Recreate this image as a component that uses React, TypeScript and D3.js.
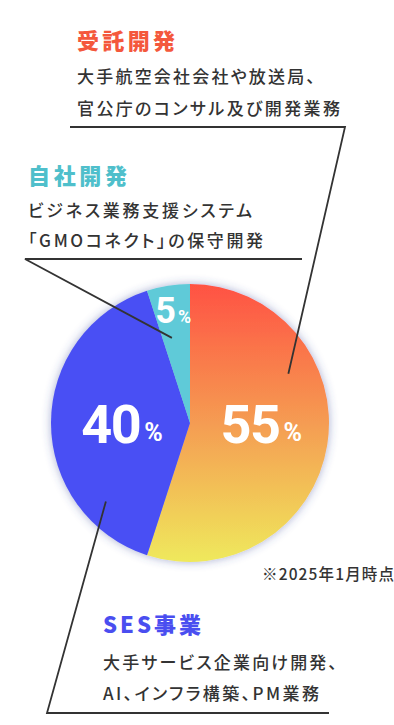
import React from "react";
import * as d3 from "d3";

const categories = ["受託開発", "SES事業", "自社開発"];
const values = [55, 40, 5];
const sliceColors = ["url(#gradOrange)", "#4a4ff4", "#5ecad8"];

const titles = ["受託開発", "自社開発", "SES事業"];
const titleColors = ["#f4583c", "#4fbfcb", "#4a4ef0"];
const descriptions = [
  ["大手航空会社会社や放送局、", "官公庁のコンサル及び開発業務"],
  ["ビジネス業務支援システム", "「GMOコネクト」の保守開発"],
  ["大手サービス企業向け開発、", "AI、インフラ構築、PM業務"],
];
const note = "※2025年1月時点";

const W = 394;
const H = 725;
const CX = 190;
const CY = 423;
const R = 139;

const JP = "'Noto Sans CJK JP', 'Noto Sans', sans-serif";

function polar(angleDeg: number, r: number): [number, number] {
  const a = (angleDeg * Math.PI) / 180;
  return [CX + r * Math.sin(a), CY - r * Math.cos(a)];
}

export default function App() {
  const pie = d3.pie<number>().sort(null).value((d) => d);
  const arcs = pie(values);
  const arc = d3.arc<d3.PieArcDatum<number>>().innerRadius(0).outerRadius(R);
  const bigLabelArc = d3.arc<d3.PieArcDatum<number>>().innerRadius(70).outerRadius(70);
  const smallLabelArc = d3.arc<d3.PieArcDatum<number>>().innerRadius(113).outerRadius(113);

  // annotation blocks (layout)
  const blocks = [
    { x: 77, titleY: 39, titleW: 98, lineY: [75, 107], lineW: [238, 263] },
    { x: 28, titleY: 174, titleW: 99, lineY: [209, 239.5], lineW: [224, 235] },
    { x: 103, titleY: 623, titleW: 98, lineY: [661.5, 692.5], lineW: [234, 216] },
  ];

  const p55 = polar(63.4, 110);
  const p5 = polar(348, 87);
  const p40 = polar(227, 115);

  const line = d3.line();

  return (
    <svg
      width={W}
      height={H}
      style={{ position: "absolute", left: 0, top: 0, display: "block", background: "#fff" }}
    >
      <defs>
        <linearGradient id="gradOrange" gradientUnits="userSpaceOnUse" x1={0} y1={-R} x2={0} y2={R}>
          <stop offset="0" stopColor="#ff5243" />
          <stop offset="0.5" stopColor="#f59c52" />
          <stop offset="1" stopColor="#efe95c" />
        </linearGradient>
        <filter id="shadow" x="-20%" y="-20%" width="140%" height="140%">
          <feDropShadow dx="0" dy="0" stdDeviation="5" floodColor="#3c4a9c" floodOpacity="0.45" />
        </filter>
      </defs>

      {/* pie */}
      <g transform={`translate(${CX},${CY})`} filter="url(#shadow)">
        {arcs.map((a, i) => (
          <path key={categories[i]} d={arc(a) || ""} fill={sliceColors[i]} />
        ))}
      </g>

      {/* leader lines */}
      <g fill="none" stroke="#333" strokeWidth={1.8}>
        <path d={line([[70, 127], [345, 127], p55]) || ""} />
        <path d={line([[302, 259], [25, 259], p5]) || ""} />
        <path d={line([p40, [47, 713], [329, 713]]) || ""} />
      </g>

      {/* percentage labels */}
      <g transform={`translate(${CX},${CY})`} fill="#fff" fontFamily="Roboto, sans-serif" fontWeight={700}>
        {arcs.map((a, i) => {
          const big = values[i] >= 10;
          const [x, y] = (big ? bigLabelArc : smallLabelArc).centroid(a);
          const yy = big ? 1 : y;
          return (
            <text key={i} x={x + (big ? 2 : 1)} y={yy} textAnchor="middle" dominantBaseline="central">
              <tspan fontSize={big ? 54 : 36} letterSpacing={big ? -1.5 : 0}>{values[i]}</tspan>
              <tspan fontSize={big ? 25 : 18} dx={big ? 4 : 2} dy={big ? 8 : 5}>%</tspan>
            </text>
          );
        })}
      </g>

      {/* annotation texts */}
      {blocks.map((b, i) => (
        <g key={titles[i]} fontFamily={JP} style={{ fontFeatureSettings: "'palt'" }}>
          <text
            x={b.x}
            y={b.titleY}
            dominantBaseline="central"
            fontSize={22}
            fontWeight={900}
            textLength={b.titleW}
            lengthAdjust="spacing"
            fill={titleColors[i]}
          >
            {titles[i]}
          </text>
          {descriptions[i].map((t, j) => (
            <text
              key={j}
              x={b.x}
              y={b.lineY[j]}
              dominantBaseline="central"
              fontSize={17}
              fontWeight={500}
              textLength={b.lineW[j]}
              lengthAdjust="spacing"
              fill="#333"
            >
              {t}
            </text>
          ))}
        </g>
      ))}

      <text
        x={262}
        y={572.5}
        dominantBaseline="central"
        fontFamily={JP}
        fontSize={15.5}
        fontWeight={500}
        textLength={132}
        lengthAdjust="spacing"
        fill="#333"
        style={{ fontFeatureSettings: "'palt'" }}
      >
        {note}
      </text>
    </svg>
  );
}
